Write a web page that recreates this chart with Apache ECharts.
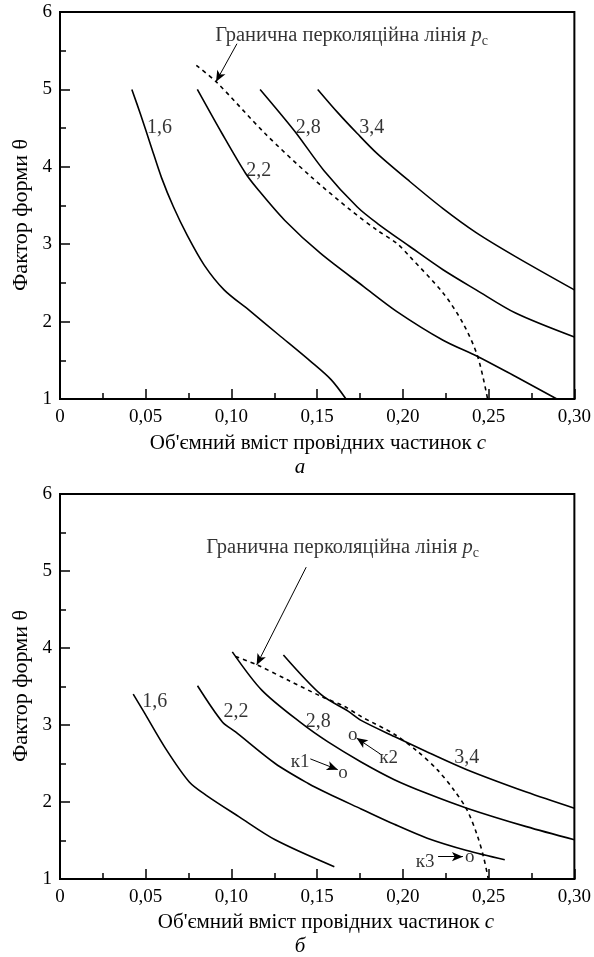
<!DOCTYPE html>
<html>
<head>
<meta charset="utf-8">
<script src="https://cdn.jsdelivr.net/npm/echarts@6/dist/echarts.min.js"></script>
<style>
html,body{margin:0;padding:0;background:#fff;}
#chart{width:594px;height:957px;}
</style>
</head>
<body>
<div id="chart"></div>
<script>
// Panel "а": shape factor θ vs. volume content c for several values
const topCurve16 = [[0.0419,5.00],[0.0471,4.67],[0.0529,4.28],[0.0592,3.86],[0.0662,3.48],[0.0743,3.11],[0.0841,2.73],[0.0957,2.41],[0.1101,2.15],[0.1275,1.83],[0.1465,1.48],[0.1581,1.25],[0.1668,1.00]];
const topCurve22 = [[0.0801,5.00],[0.0945,4.43],[0.1081,3.92],[0.1157,3.70],[0.131,3.31],[0.152,2.88],[0.1773,2.45],[0.1965,2.13],[0.2234,1.76],[0.2436,1.55],[0.2657,1.29],[0.2898,1.00]];
const topCurve28 = [[0.1167,5.00],[0.1369,4.46],[0.154,3.95],[0.1734,3.48],[0.185,3.27],[0.204,2.97],[0.2234,2.67],[0.2427,2.41],[0.2657,2.11],[0.300,1.80]];
const topCurve34 = [[0.1503,5.00],[0.162,4.70],[0.1734,4.43],[0.185,4.17],[0.204,3.81],[0.2234,3.46],[0.2427,3.15],[0.2657,2.84],[0.300,2.41]];
const topThreshold = [[0.0795,5.31],[0.091,5.10],[0.1196,4.43],[0.1465,3.87],[0.1695,3.44],[0.185,3.18],[0.1965,3.01],[0.204,2.84],[0.2234,2.37],[0.235,1.98],[0.2436,1.55],[0.2494,1.00]];

// Panel "б"
const botCurve16 = [[0.0427,3.40],[0.0484,3.19],[0.062,2.68],[0.0754,2.26],[0.0851,2.09],[0.1043,1.81],[0.1255,1.51],[0.160,1.16]];
const botCurve22 = [[0.0802,3.51],[0.0947,3.04],[0.1024,2.91],[0.1255,2.50],[0.1448,2.24],[0.1563,2.11],[0.1756,1.91],[0.195,1.71],[0.2142,1.53],[0.2373,1.37],[0.2594,1.25]];
const botCurve28 = [[0.1005,3.95],[0.1178,3.45],[0.141,3.02],[0.1563,2.78],[0.1756,2.52],[0.195,2.29],[0.2142,2.11],[0.2373,1.92],[0.272,1.68],[0.300,1.51]];
const botCurve34 = [[0.1303,3.91],[0.1525,3.39],[0.168,3.18],[0.1756,3.06],[0.195,2.85],[0.2142,2.65],[0.2373,2.42],[0.272,2.13],[0.300,1.92]];
const botThreshold = [[0.1024,3.89],[0.115,3.78],[0.1332,3.58],[0.1525,3.37],[0.166,3.24],[0.1756,3.11],[0.195,2.88],[0.2084,2.66],[0.22,2.42],[0.2296,2.16],[0.2373,1.90],[0.243,1.59],[0.247,1.29],[0.2498,1.00]];

// Curve parameter labels [c, θ, text]
const topCurveLabels = [[0.058,4.50,'1,6'],[0.1159,3.95,'2,2'],[0.1448,4.50,'2,8'],[0.1818,4.50,'3,4']];
const botCurveLabels = [[0.0552,3.30,'1,6'],[0.1026,3.17,'2,2'],[0.1506,3.04,'2,8'],[0.2373,2.58,'3,4']];

// Points к1..к3 moving to о
const botPointLabels = [[0.140,2.52,'к1'],[0.165,2.38,'о'],[0.1916,2.57,'к2'],[0.1708,2.87,'о'],[0.213,1.22,'к3'],[0.239,1.29,'о']];
const botArrows = [[[0.146,2.56],[0.162,2.42]],[[0.187,2.62],[0.173,2.83]],[[0.2205,1.29],[0.235,1.29]]];

const thresholdText = 'Гранична перколяційна лінія ';
const topNote = [0.0905,5.69];
const topNoteArrow = [[0.1032,5.59],[0.091,5.10]];
const botNote = [0.0853,5.30];
const botNoteArrow = [[0.1436,5.05],[0.1147,3.78]];

const xTicks = {min:0, max:0.30, interval:0.05};
const yTicks = {min:1, max:6, interval:1};

const FONT = 'Liberation Serif';
const chart = echarts.init(document.getElementById('chart'));

function xAxisFor(gi){
  return {
    type:'value', gridIndex:gi, min:xTicks.min, max:xTicks.max, interval:xTicks.interval,
    axisLine:{show:true, onZero:false, lineStyle:{color:'#000', width:2}},
    axisTick:{show:true, inside:true, length:10, lineStyle:{color:'#000', width:1.5}},
    minorTick:{show:true, splitNumber:2, length:6, lineStyle:{color:'#000', width:1.5}},
    splitLine:{show:false},
    axisLabel:{color:'#000', fontFamily:FONT, fontSize:19, margin:9,
      formatter:v => v === 0 ? '0' : v.toFixed(2).replace('.', ',')}
  };
}
function yAxisFor(gi){
  return {
    type:'value', gridIndex:gi, min:yTicks.min, max:yTicks.max, interval:yTicks.interval,
    axisLine:{show:true, onZero:false, lineStyle:{color:'#000', width:2}},
    axisTick:{show:true, inside:true, length:10, lineStyle:{color:'#000', width:1.5}},
    minorTick:{show:true, splitNumber:2, length:6, lineStyle:{color:'#000', width:1.5}},
    splitLine:{show:false},
    axisLabel:{color:'#000', fontFamily:FONT, fontSize:19, margin:8, formatter:v => String(v)}
  };
}
function curve(data, gi, dashed){
  return {
    type:'line', xAxisIndex:gi, yAxisIndex:gi, data:data, smooth:0.3, symbol:'none',
    lineStyle:{color:'#000', width:1.6, type: dashed ? [4,4] : 'solid'},
    silent:true, animation:false
  };
}
function textSeries(data, gi, size){
  return {
    type:'scatter', xAxisIndex:gi, yAxisIndex:gi, symbolSize:0, silent:true, animation:false,
    data:data.map(d => ({value:[d[0], d[1]], name:d[2]})),
    label:{show:true, position:'inside', formatter:p => p.name, color:'#000', fontFamily:FONT, fontSize:size}
  };
}
function arrowSeries(pairs, gi){
  return {
    type:'line', xAxisIndex:gi, yAxisIndex:gi, data:[], silent:true, animation:false,
    markLine:{
      silent:true, animation:false, symbol:['none','arrow'], symbolSize:[7,11],
      label:{show:false},
      lineStyle:{color:'#000', width:1, type:'solid'},
      emphasis:{disabled:true},
      data:pairs.map(p => [{coord:p[0]},{coord:p[1]}])
    }
  };
}
const noteRich = {
  t:{fontFamily:FONT, fontSize:20.5, color:'#000'},
  p:{fontFamily:FONT, fontSize:20.5, fontStyle:'italic', color:'#000'},
  s:{fontFamily:FONT, fontSize:14, color:'#000', padding:[10,0,0,0]}
};
function noteSeries(pos, gi){
  return {
    type:'scatter', xAxisIndex:gi, yAxisIndex:gi, symbolSize:0, silent:true, animation:false,
    data:[{value:pos}],
    label:{show:true, position:'right', distance:0,
      formatter:'{t|' + thresholdText + '}{p|p}{s|c}', rich:noteRich}
  };
}
const titleRich = {
  t:{fontFamily:FONT, fontSize:21, color:'#000'},
  p:{fontFamily:FONT, fontSize:21, fontStyle:'italic', color:'#000'}
};
const xTitle = '{t|Об\'ємний вміст провідних частинок }{p|c}';
const yTitleFont = '22px "Liberation Serif"';
const letterFont = 'italic 21px "Liberation Serif"';

const option = {
  animation:false,
  backgroundColor:'#fff',
  grid:[
    {left:60, top:12, width:519, height:387, show:true, borderColor:'#000', borderWidth:2, backgroundColor:'transparent'},
    {left:60, top:494, width:518, height:385, show:true, borderColor:'#000', borderWidth:2, backgroundColor:'transparent'}
  ],
  xAxis:[xAxisFor(0), xAxisFor(1)],
  yAxis:[yAxisFor(0), yAxisFor(1)],
  series:[
    curve(topCurve16,0), curve(topCurve22,0), curve(topCurve28,0), curve(topCurve34,0), curve(topThreshold,0,true),
    curve(botCurve16,1), curve(botCurve22,1), curve(botCurve28,1), curve(botCurve34,1), curve(botThreshold,1,true),
    textSeries(topCurveLabels,0,20), textSeries(botCurveLabels,1,20), textSeries(botPointLabels,1,19),
    arrowSeries([topNoteArrow],0), arrowSeries([botNoteArrow],1), arrowSeries(botArrows,1),
    noteSeries(topNote,0), noteSeries(botNote,1)
  ],
  graphic:[
    {type:'text', x:21, y:215, rotation:Math.PI/2, silent:true,
      style:{text:'Фактор форми θ', font:yTitleFont, fill:'#000', align:'center', verticalAlign:'middle'}},
    {type:'text', x:21, y:686, rotation:Math.PI/2, silent:true,
      style:{text:'Фактор форми θ', font:yTitleFont, fill:'#000', align:'center', verticalAlign:'middle'}},
    {type:'text', x:318, y:443, silent:true,
      style:{text:xTitle, align:'center', verticalAlign:'middle', rich:titleRich}},
    {type:'text', x:300, y:467, silent:true,
      style:{text:'а', font:letterFont, fill:'#000', align:'center', verticalAlign:'middle'}},
    {type:'text', x:326, y:922, silent:true,
      style:{text:xTitle, align:'center', verticalAlign:'middle', rich:titleRich}},
    {type:'text', x:300, y:946, silent:true,
      style:{text:'б', font:letterFont, fill:'#000', align:'center', verticalAlign:'middle'}}
  ]
};
chart.setOption(option);
</script>
</body>
</html>
